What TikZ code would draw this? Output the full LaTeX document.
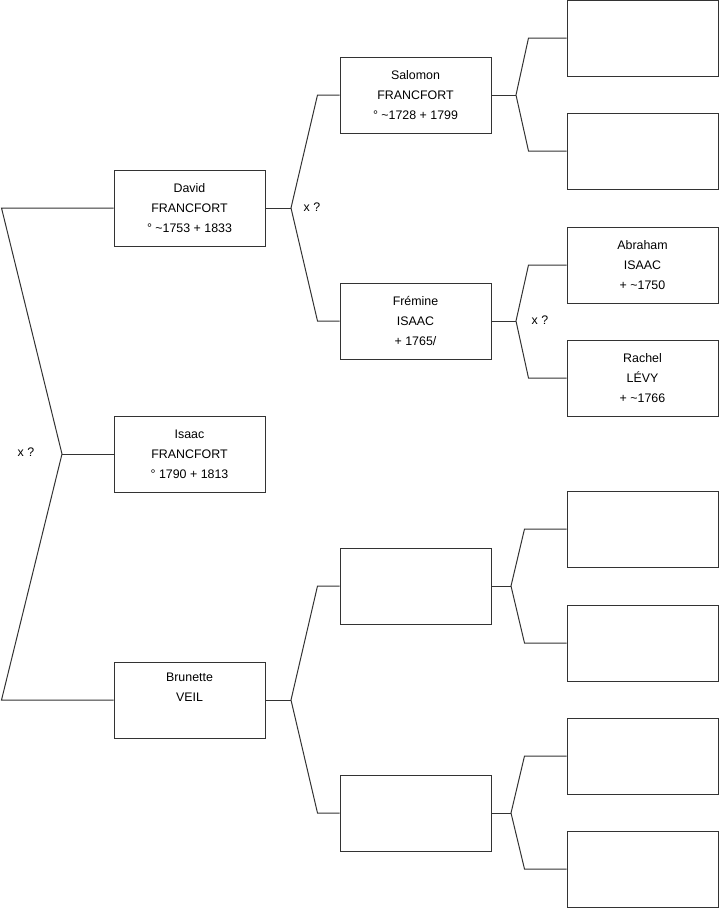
\documentclass[tikz,border=0pt]{standalone}
\usepackage{fontspec}
\setmainfont{Liberation Sans}
\usetikzlibrary{calc}
\begin{document}
\begin{tikzpicture}[x=1pt,y=-1pt,
  person/.style={draw=black!80,line width=1pt,fill=white,minimum width=151pt,minimum height=76pt,inner sep=0pt,align=center,font={\fontsize{12.4}{20}\selectfont}},
  link/.style={draw=black!80,line width=1pt},
  lbl/.style={font={\fontsize{12.4}{14}\selectfont},inner sep=0pt}]
\useasboundingbox (0,0) rectangle (719,908);
% generation 1
\node[person] (david) at (189.5,208) {David\\FRANCFORT\\° \textasciitilde1753 + 1833};
\node[person] (isaac) at (189.5,454) {Isaac\\FRANCFORT\\° 1790 + 1813};
\node[person] (brunette) at (189.5,700) {Brunette\\VEIL\\\strut};
% generation 2
\node[person] (salomon) at (415.5,95) {Salomon\\FRANCFORT\\° \textasciitilde1728 + 1799};
\node[person] (fremine) at (415.5,321) {Frémine\\ISAAC\\+ 1765/};
\node[person] (b1) at (415.5,586) {};
\node[person] (b2) at (415.5,813) {};
% generation 3
\node[person] (c1) at (642.5,38) {};
\node[person] (c2) at (642.5,151) {};
\node[person] (abraham) at (642.5,265) {Abraham\\ISAAC\\+ \textasciitilde1750};
\node[person] (rachel) at (642.5,378) {Rachel\\LÉVY\\+ \textasciitilde1766};
\node[person] (c5) at (642.5,529) {};
\node[person] (c6) at (642.5,643) {};
\node[person] (c7) at (642.5,756) {};
\node[person] (c8) at (642.5,869) {};
% labels
\node[lbl] (x1) at (26,452) {x ?};
\node[lbl] (x2) at (312,207) {x ?};
\node[lbl] (x3) at (540,320) {x ?};
% root fork
\coordinate (r) at (62,454);
\draw[link] (david.west) -- ++(-112,0) -- (r) -- ($(brunette.west)+(-112,0)$) -- (brunette.west);
\draw[link] (r) -- (isaac.west);
% forks generation 2
\coordinate (f1) at (291,208);
\draw[link] (david.east) -- (f1);
\draw[link] (salomon.west) -- ++(-22,0) -- (f1) -- ($(fremine.west)+(-22,0)$) -- (fremine.west);
\coordinate (f2) at (291,700);
\draw[link] (brunette.east) -- (f2);
\draw[link] (b1.west) -- ++(-22,0) -- (f2) -- ($(b2.west)+(-22,0)$) -- (b2.west);
% forks generation 3
\coordinate (g1) at (516,95);
\draw[link] (salomon.east) -- (g1);
\draw[link] (c1.west) -- ++(-38,0) -- (g1) -- ($(c2.west)+(-38,0)$) -- (c2.west);
\coordinate (g2) at (516,321);
\draw[link] (fremine.east) -- (g2);
\draw[link] (abraham.west) -- ++(-38,0) -- (g2) -- ($(rachel.west)+(-38,0)$) -- (rachel.west);
\coordinate (g3) at (511,586);
\draw[link] (b1.east) -- (g3);
\draw[link] (c5.west) -- ++(-42,0) -- (g3) -- ($(c6.west)+(-42,0)$) -- (c6.west);
\coordinate (g4) at (511,813);
\draw[link] (b2.east) -- (g4);
\draw[link] (c7.west) -- ++(-42,0) -- (g4) -- ($(c8.west)+(-42,0)$) -- (c8.west);
\end{tikzpicture}
\end{document}
